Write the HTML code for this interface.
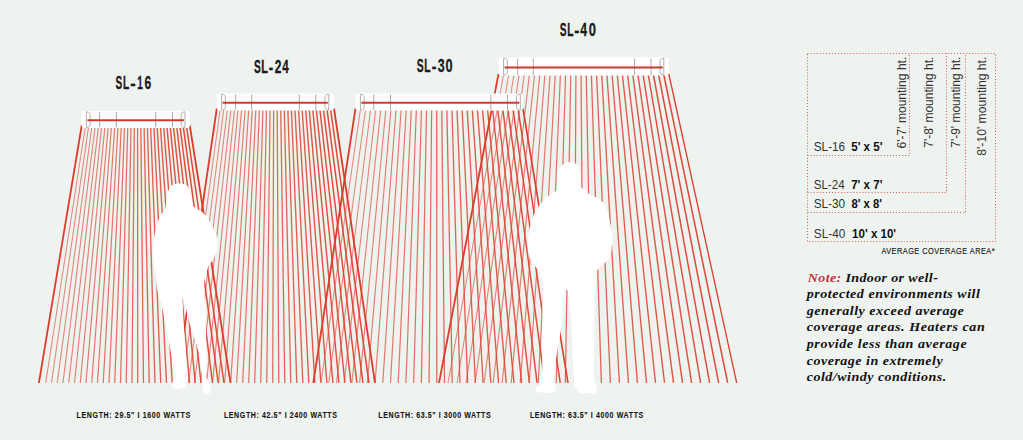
<!DOCTYPE html>
<html><head><meta charset="utf-8"><style>
html,body{margin:0;padding:0;width:1023px;height:440px;overflow:hidden;background:#eff3f0;}
svg{display:block}
.t{font-family:"Liberation Sans",sans-serif;}
.s{font-family:"Liberation Serif",serif;}
</style></head><body>
<svg width="1023" height="440" viewBox="0 0 1023 440">
<rect width="1023" height="440" fill="#eff3f0"/>
<g>
<line x1="503.66" y1="74.00" x2="448.02" y2="382.90" stroke="#de4836" stroke-width="1.05" stroke-opacity="0.62"/>
<line x1="508.82" y1="74.00" x2="457.04" y2="382.90" stroke="#de4836" stroke-width="1.06" stroke-opacity="0.63"/>
<line x1="513.98" y1="74.00" x2="466.06" y2="382.90" stroke="#de4836" stroke-width="1.08" stroke-opacity="0.64"/>
<line x1="519.14" y1="74.00" x2="475.08" y2="382.90" stroke="#de4836" stroke-width="1.09" stroke-opacity="0.66"/>
<line x1="524.30" y1="74.00" x2="484.11" y2="382.90" stroke="#de4836" stroke-width="1.11" stroke-opacity="0.67"/>
<line x1="529.46" y1="74.00" x2="493.13" y2="382.90" stroke="#de4836" stroke-width="1.12" stroke-opacity="0.68"/>
<line x1="534.62" y1="74.00" x2="502.15" y2="382.90" stroke="#de4836" stroke-width="1.14" stroke-opacity="0.69"/>
<line x1="539.78" y1="74.00" x2="511.17" y2="382.90" stroke="#de4836" stroke-width="1.15" stroke-opacity="0.71"/>
<line x1="544.95" y1="74.00" x2="520.19" y2="382.90" stroke="#de4836" stroke-width="1.17" stroke-opacity="0.72"/>
<line x1="550.11" y1="74.00" x2="529.21" y2="382.90" stroke="#de4836" stroke-width="1.18" stroke-opacity="0.73"/>
<line x1="555.27" y1="74.00" x2="538.23" y2="382.90" stroke="#de4836" stroke-width="1.20" stroke-opacity="0.74"/>
<line x1="560.43" y1="74.00" x2="547.25" y2="382.90" stroke="#de4836" stroke-width="1.21" stroke-opacity="0.75"/>
<line x1="565.59" y1="74.00" x2="556.28" y2="382.90" stroke="#de4836" stroke-width="1.22" stroke-opacity="0.77"/>
<line x1="570.75" y1="74.00" x2="565.30" y2="382.90" stroke="#de4836" stroke-width="1.24" stroke-opacity="0.78"/>
<line x1="575.91" y1="74.00" x2="574.32" y2="382.90" stroke="#de4836" stroke-width="1.25" stroke-opacity="0.79"/>
<line x1="581.07" y1="74.00" x2="583.34" y2="382.90" stroke="#de4836" stroke-width="1.27" stroke-opacity="0.80"/>
<line x1="586.23" y1="74.00" x2="592.36" y2="382.90" stroke="#de4836" stroke-width="1.28" stroke-opacity="0.82"/>
<line x1="591.39" y1="74.00" x2="601.38" y2="382.90" stroke="#de4836" stroke-width="1.30" stroke-opacity="0.83"/>
<line x1="596.55" y1="74.00" x2="610.40" y2="382.90" stroke="#de4836" stroke-width="1.31" stroke-opacity="0.84"/>
<line x1="601.71" y1="74.00" x2="619.42" y2="382.90" stroke="#de4836" stroke-width="1.33" stroke-opacity="0.85"/>
<line x1="606.87" y1="74.00" x2="628.45" y2="382.90" stroke="#de4836" stroke-width="1.34" stroke-opacity="0.87"/>
<line x1="612.03" y1="74.00" x2="637.47" y2="382.90" stroke="#de4836" stroke-width="1.35" stroke-opacity="0.88"/>
<line x1="617.19" y1="74.00" x2="646.49" y2="382.90" stroke="#de4836" stroke-width="1.37" stroke-opacity="0.89"/>
<line x1="622.35" y1="74.00" x2="655.51" y2="382.90" stroke="#de4836" stroke-width="1.38" stroke-opacity="0.90"/>
<line x1="627.52" y1="74.00" x2="664.53" y2="382.90" stroke="#de4836" stroke-width="1.40" stroke-opacity="0.91"/>
<line x1="632.68" y1="74.00" x2="673.55" y2="382.90" stroke="#de4836" stroke-width="1.41" stroke-opacity="0.93"/>
<line x1="637.84" y1="74.00" x2="682.57" y2="382.90" stroke="#de4836" stroke-width="1.43" stroke-opacity="0.94"/>
<line x1="643.00" y1="74.00" x2="691.59" y2="382.90" stroke="#de4836" stroke-width="1.44" stroke-opacity="0.95"/>
<line x1="648.16" y1="74.00" x2="700.62" y2="382.90" stroke="#de4836" stroke-width="1.46" stroke-opacity="0.96"/>
<line x1="653.32" y1="74.00" x2="709.64" y2="382.90" stroke="#de4836" stroke-width="1.47" stroke-opacity="0.98"/>
<line x1="658.48" y1="74.00" x2="718.66" y2="382.90" stroke="#de4836" stroke-width="1.49" stroke-opacity="0.99"/>
<line x1="663.64" y1="74.00" x2="727.68" y2="382.90" stroke="#de4836" stroke-width="1.50" stroke-opacity="1.00"/>
<rect x="498.5" y="57.5" width="170.50" height="18.00" rx="3" fill="#ffffff"/>
<line x1="517.6" y1="58.5" x2="517.6" y2="75.0" stroke="#a4a39e" stroke-width="0.9"/>
<line x1="533.3" y1="58.5" x2="533.3" y2="75.0" stroke="#a4a39e" stroke-width="0.9"/>
<line x1="634.5" y1="58.5" x2="634.5" y2="75.0" stroke="#a4a39e" stroke-width="0.9"/>
<line x1="651.0" y1="58.5" x2="651.0" y2="75.0" stroke="#a4a39e" stroke-width="0.9"/>
<path d="M503.6 58.3 L503.6 75.0 C506.8 75.0 507.40000000000003 73.5 507.40000000000003 71.5 L507.40000000000003 62.0 C507.40000000000003 60.0 506.8 58.3 503.6 58.3Z" fill="none" stroke="#aaa69c" stroke-width="0.9"/>
<path d="M663.8 58.3 L663.8 75.0 C660.5999999999999 75.0 660.0 73.5 660.0 71.5 L660.0 62.0 C660.0 60.0 660.5999999999999 58.3 663.8 58.3Z" fill="none" stroke="#aaa69c" stroke-width="0.9"/>
<line x1="504.6" y1="67.40" x2="662.8" y2="67.40" stroke="#cc3a2e" stroke-width="2"/>
<line x1="360.58" y1="108.50" x2="321.02" y2="382.90" stroke="#de4836" stroke-width="1.05" stroke-opacity="0.62"/>
<line x1="365.65" y1="108.50" x2="328.74" y2="382.90" stroke="#de4836" stroke-width="1.06" stroke-opacity="0.63"/>
<line x1="370.73" y1="108.50" x2="336.45" y2="382.90" stroke="#de4836" stroke-width="1.08" stroke-opacity="0.64"/>
<line x1="375.80" y1="108.50" x2="344.17" y2="382.90" stroke="#de4836" stroke-width="1.09" stroke-opacity="0.66"/>
<line x1="380.88" y1="108.50" x2="351.89" y2="382.90" stroke="#de4836" stroke-width="1.11" stroke-opacity="0.67"/>
<line x1="385.95" y1="108.50" x2="359.61" y2="382.90" stroke="#de4836" stroke-width="1.12" stroke-opacity="0.68"/>
<line x1="391.03" y1="108.50" x2="367.33" y2="382.90" stroke="#de4836" stroke-width="1.14" stroke-opacity="0.69"/>
<line x1="396.11" y1="108.50" x2="375.05" y2="382.90" stroke="#de4836" stroke-width="1.15" stroke-opacity="0.71"/>
<line x1="401.18" y1="108.50" x2="382.76" y2="382.90" stroke="#de4836" stroke-width="1.17" stroke-opacity="0.72"/>
<line x1="406.26" y1="108.50" x2="390.48" y2="382.90" stroke="#de4836" stroke-width="1.18" stroke-opacity="0.73"/>
<line x1="411.33" y1="108.50" x2="398.20" y2="382.90" stroke="#de4836" stroke-width="1.20" stroke-opacity="0.74"/>
<line x1="416.41" y1="108.50" x2="405.92" y2="382.90" stroke="#de4836" stroke-width="1.21" stroke-opacity="0.75"/>
<line x1="421.48" y1="108.50" x2="413.64" y2="382.90" stroke="#de4836" stroke-width="1.22" stroke-opacity="0.77"/>
<line x1="426.56" y1="108.50" x2="421.35" y2="382.90" stroke="#de4836" stroke-width="1.24" stroke-opacity="0.78"/>
<line x1="431.64" y1="108.50" x2="429.07" y2="382.90" stroke="#de4836" stroke-width="1.25" stroke-opacity="0.79"/>
<line x1="436.71" y1="108.50" x2="436.79" y2="382.90" stroke="#de4836" stroke-width="1.27" stroke-opacity="0.80"/>
<line x1="441.79" y1="108.50" x2="444.51" y2="382.90" stroke="#de4836" stroke-width="1.28" stroke-opacity="0.82"/>
<line x1="446.86" y1="108.50" x2="452.23" y2="382.90" stroke="#de4836" stroke-width="1.30" stroke-opacity="0.83"/>
<line x1="451.94" y1="108.50" x2="459.95" y2="382.90" stroke="#de4836" stroke-width="1.31" stroke-opacity="0.84"/>
<line x1="457.02" y1="108.50" x2="467.66" y2="382.90" stroke="#de4836" stroke-width="1.33" stroke-opacity="0.85"/>
<line x1="462.09" y1="108.50" x2="475.38" y2="382.90" stroke="#de4836" stroke-width="1.34" stroke-opacity="0.87"/>
<line x1="467.17" y1="108.50" x2="483.10" y2="382.90" stroke="#de4836" stroke-width="1.35" stroke-opacity="0.88"/>
<line x1="472.24" y1="108.50" x2="490.82" y2="382.90" stroke="#de4836" stroke-width="1.37" stroke-opacity="0.89"/>
<line x1="477.32" y1="108.50" x2="498.54" y2="382.90" stroke="#de4836" stroke-width="1.38" stroke-opacity="0.90"/>
<line x1="482.39" y1="108.50" x2="506.25" y2="382.90" stroke="#de4836" stroke-width="1.40" stroke-opacity="0.91"/>
<line x1="487.47" y1="108.50" x2="513.97" y2="382.90" stroke="#de4836" stroke-width="1.41" stroke-opacity="0.93"/>
<line x1="492.55" y1="108.50" x2="521.69" y2="382.90" stroke="#de4836" stroke-width="1.43" stroke-opacity="0.94"/>
<line x1="497.62" y1="108.50" x2="529.41" y2="382.90" stroke="#de4836" stroke-width="1.44" stroke-opacity="0.95"/>
<line x1="502.70" y1="108.50" x2="537.13" y2="382.90" stroke="#de4836" stroke-width="1.46" stroke-opacity="0.96"/>
<line x1="507.77" y1="108.50" x2="544.85" y2="382.90" stroke="#de4836" stroke-width="1.47" stroke-opacity="0.98"/>
<line x1="512.85" y1="108.50" x2="552.56" y2="382.90" stroke="#de4836" stroke-width="1.49" stroke-opacity="0.99"/>
<line x1="517.92" y1="108.50" x2="560.28" y2="382.90" stroke="#de4836" stroke-width="1.50" stroke-opacity="1.00"/>
<line x1="220.35" y1="108.50" x2="182.52" y2="382.90" stroke="#de4836" stroke-width="1.05" stroke-opacity="0.62"/>
<line x1="223.90" y1="108.50" x2="188.53" y2="382.90" stroke="#de4836" stroke-width="1.06" stroke-opacity="0.63"/>
<line x1="227.45" y1="108.50" x2="194.55" y2="382.90" stroke="#de4836" stroke-width="1.08" stroke-opacity="0.64"/>
<line x1="231.01" y1="108.50" x2="200.56" y2="382.90" stroke="#de4836" stroke-width="1.09" stroke-opacity="0.66"/>
<line x1="234.56" y1="108.50" x2="206.58" y2="382.90" stroke="#de4836" stroke-width="1.11" stroke-opacity="0.67"/>
<line x1="238.11" y1="108.50" x2="212.59" y2="382.90" stroke="#de4836" stroke-width="1.12" stroke-opacity="0.68"/>
<line x1="241.66" y1="108.50" x2="218.61" y2="382.90" stroke="#de4836" stroke-width="1.14" stroke-opacity="0.69"/>
<line x1="245.21" y1="108.50" x2="224.62" y2="382.90" stroke="#de4836" stroke-width="1.15" stroke-opacity="0.71"/>
<line x1="248.76" y1="108.50" x2="230.64" y2="382.90" stroke="#de4836" stroke-width="1.17" stroke-opacity="0.72"/>
<line x1="252.32" y1="108.50" x2="236.65" y2="382.90" stroke="#de4836" stroke-width="1.18" stroke-opacity="0.73"/>
<line x1="255.87" y1="108.50" x2="242.67" y2="382.90" stroke="#de4836" stroke-width="1.20" stroke-opacity="0.74"/>
<line x1="259.42" y1="108.50" x2="248.68" y2="382.90" stroke="#de4836" stroke-width="1.21" stroke-opacity="0.75"/>
<line x1="262.97" y1="108.50" x2="254.70" y2="382.90" stroke="#de4836" stroke-width="1.22" stroke-opacity="0.77"/>
<line x1="266.52" y1="108.50" x2="260.71" y2="382.90" stroke="#de4836" stroke-width="1.24" stroke-opacity="0.78"/>
<line x1="270.07" y1="108.50" x2="266.73" y2="382.90" stroke="#de4836" stroke-width="1.25" stroke-opacity="0.79"/>
<line x1="273.62" y1="108.50" x2="272.74" y2="382.90" stroke="#de4836" stroke-width="1.27" stroke-opacity="0.80"/>
<line x1="277.18" y1="108.50" x2="278.76" y2="382.90" stroke="#de4836" stroke-width="1.28" stroke-opacity="0.82"/>
<line x1="280.73" y1="108.50" x2="284.77" y2="382.90" stroke="#de4836" stroke-width="1.30" stroke-opacity="0.83"/>
<line x1="284.28" y1="108.50" x2="290.79" y2="382.90" stroke="#de4836" stroke-width="1.31" stroke-opacity="0.84"/>
<line x1="287.83" y1="108.50" x2="296.80" y2="382.90" stroke="#de4836" stroke-width="1.33" stroke-opacity="0.85"/>
<line x1="291.38" y1="108.50" x2="302.82" y2="382.90" stroke="#de4836" stroke-width="1.34" stroke-opacity="0.87"/>
<line x1="294.93" y1="108.50" x2="308.83" y2="382.90" stroke="#de4836" stroke-width="1.35" stroke-opacity="0.88"/>
<line x1="298.48" y1="108.50" x2="314.85" y2="382.90" stroke="#de4836" stroke-width="1.37" stroke-opacity="0.89"/>
<line x1="302.04" y1="108.50" x2="320.86" y2="382.90" stroke="#de4836" stroke-width="1.38" stroke-opacity="0.90"/>
<line x1="305.59" y1="108.50" x2="326.88" y2="382.90" stroke="#de4836" stroke-width="1.40" stroke-opacity="0.91"/>
<line x1="309.14" y1="108.50" x2="332.89" y2="382.90" stroke="#de4836" stroke-width="1.41" stroke-opacity="0.93"/>
<line x1="312.69" y1="108.50" x2="338.91" y2="382.90" stroke="#de4836" stroke-width="1.43" stroke-opacity="0.94"/>
<line x1="316.24" y1="108.50" x2="344.92" y2="382.90" stroke="#de4836" stroke-width="1.44" stroke-opacity="0.95"/>
<line x1="319.79" y1="108.50" x2="350.94" y2="382.90" stroke="#de4836" stroke-width="1.46" stroke-opacity="0.96"/>
<line x1="323.35" y1="108.50" x2="356.95" y2="382.90" stroke="#de4836" stroke-width="1.47" stroke-opacity="0.98"/>
<line x1="326.90" y1="108.50" x2="362.97" y2="382.90" stroke="#de4836" stroke-width="1.49" stroke-opacity="0.99"/>
<line x1="330.45" y1="108.50" x2="368.98" y2="382.90" stroke="#de4836" stroke-width="1.50" stroke-opacity="1.00"/>
<line x1="85.60" y1="125.00" x2="45.70" y2="382.90" stroke="#de4836" stroke-width="1.05" stroke-opacity="0.62"/>
<line x1="88.85" y1="125.00" x2="51.45" y2="382.90" stroke="#de4836" stroke-width="1.06" stroke-opacity="0.63"/>
<line x1="92.10" y1="125.00" x2="57.20" y2="382.90" stroke="#de4836" stroke-width="1.08" stroke-opacity="0.64"/>
<line x1="95.35" y1="125.00" x2="62.95" y2="382.90" stroke="#de4836" stroke-width="1.09" stroke-opacity="0.66"/>
<line x1="98.59" y1="125.00" x2="68.71" y2="382.90" stroke="#de4836" stroke-width="1.11" stroke-opacity="0.67"/>
<line x1="101.84" y1="125.00" x2="74.46" y2="382.90" stroke="#de4836" stroke-width="1.12" stroke-opacity="0.68"/>
<line x1="105.09" y1="125.00" x2="80.21" y2="382.90" stroke="#de4836" stroke-width="1.14" stroke-opacity="0.69"/>
<line x1="108.34" y1="125.00" x2="85.96" y2="382.90" stroke="#de4836" stroke-width="1.15" stroke-opacity="0.71"/>
<line x1="111.59" y1="125.00" x2="91.71" y2="382.90" stroke="#de4836" stroke-width="1.17" stroke-opacity="0.72"/>
<line x1="114.84" y1="125.00" x2="97.46" y2="382.90" stroke="#de4836" stroke-width="1.18" stroke-opacity="0.73"/>
<line x1="118.08" y1="125.00" x2="103.22" y2="382.90" stroke="#de4836" stroke-width="1.20" stroke-opacity="0.74"/>
<line x1="121.33" y1="125.00" x2="108.97" y2="382.90" stroke="#de4836" stroke-width="1.21" stroke-opacity="0.75"/>
<line x1="124.58" y1="125.00" x2="114.72" y2="382.90" stroke="#de4836" stroke-width="1.22" stroke-opacity="0.77"/>
<line x1="127.83" y1="125.00" x2="120.47" y2="382.90" stroke="#de4836" stroke-width="1.24" stroke-opacity="0.78"/>
<line x1="131.08" y1="125.00" x2="126.22" y2="382.90" stroke="#de4836" stroke-width="1.25" stroke-opacity="0.79"/>
<line x1="134.33" y1="125.00" x2="131.97" y2="382.90" stroke="#de4836" stroke-width="1.27" stroke-opacity="0.80"/>
<line x1="137.57" y1="125.00" x2="137.73" y2="382.90" stroke="#de4836" stroke-width="1.28" stroke-opacity="0.82"/>
<line x1="140.82" y1="125.00" x2="143.48" y2="382.90" stroke="#de4836" stroke-width="1.30" stroke-opacity="0.83"/>
<line x1="144.07" y1="125.00" x2="149.23" y2="382.90" stroke="#de4836" stroke-width="1.31" stroke-opacity="0.84"/>
<line x1="147.32" y1="125.00" x2="154.98" y2="382.90" stroke="#de4836" stroke-width="1.33" stroke-opacity="0.85"/>
<line x1="150.57" y1="125.00" x2="160.73" y2="382.90" stroke="#de4836" stroke-width="1.34" stroke-opacity="0.87"/>
<line x1="153.82" y1="125.00" x2="166.48" y2="382.90" stroke="#de4836" stroke-width="1.35" stroke-opacity="0.88"/>
<line x1="157.06" y1="125.00" x2="172.24" y2="382.90" stroke="#de4836" stroke-width="1.37" stroke-opacity="0.89"/>
<line x1="160.31" y1="125.00" x2="177.99" y2="382.90" stroke="#de4836" stroke-width="1.38" stroke-opacity="0.90"/>
<line x1="163.56" y1="125.00" x2="183.74" y2="382.90" stroke="#de4836" stroke-width="1.40" stroke-opacity="0.91"/>
<line x1="166.81" y1="125.00" x2="189.49" y2="382.90" stroke="#de4836" stroke-width="1.41" stroke-opacity="0.93"/>
<line x1="170.06" y1="125.00" x2="195.24" y2="382.90" stroke="#de4836" stroke-width="1.43" stroke-opacity="0.94"/>
<line x1="173.31" y1="125.00" x2="200.99" y2="382.90" stroke="#de4836" stroke-width="1.44" stroke-opacity="0.95"/>
<line x1="176.55" y1="125.00" x2="206.75" y2="382.90" stroke="#de4836" stroke-width="1.46" stroke-opacity="0.96"/>
<line x1="179.80" y1="125.00" x2="212.50" y2="382.90" stroke="#de4836" stroke-width="1.47" stroke-opacity="0.98"/>
<line x1="183.05" y1="125.00" x2="218.25" y2="382.90" stroke="#de4836" stroke-width="1.49" stroke-opacity="0.99"/>
<line x1="186.30" y1="125.00" x2="224.00" y2="382.90" stroke="#de4836" stroke-width="1.50" stroke-opacity="1.00"/>
<line x1="498.50" y1="74.00" x2="439.00" y2="382.90" stroke="#dc3c2c" stroke-width="1.8"/>
<line x1="668.80" y1="74.00" x2="736.70" y2="382.90" stroke="#dc3c2c" stroke-width="1.3"/>
<line x1="355.50" y1="108.50" x2="313.30" y2="382.90" stroke="#dc3c2c" stroke-width="1.8"/>
<line x1="523.00" y1="108.50" x2="568.00" y2="382.90" stroke="#dc3c2c" stroke-width="1.6"/>
<line x1="216.80" y1="108.50" x2="176.50" y2="382.90" stroke="#dc3c2c" stroke-width="1.8"/>
<line x1="334.00" y1="108.50" x2="375.00" y2="382.90" stroke="#dc3c2c" stroke-width="1.8"/>
<line x1="81.80" y1="125.00" x2="38.90" y2="382.90" stroke="#dc3c2c" stroke-width="1.8"/>
<line x1="189.70" y1="125.00" x2="230.50" y2="382.90" stroke="#dc3c2c" stroke-width="1.8"/>
<rect x="355.5" y="93.5" width="167.50" height="17.00" rx="3" fill="#ffffff"/>
<line x1="373.8" y1="94.5" x2="373.8" y2="110.0" stroke="#a4a39e" stroke-width="0.9"/>
<line x1="390.5" y1="94.5" x2="390.5" y2="110.0" stroke="#a4a39e" stroke-width="0.9"/>
<line x1="490.8" y1="94.5" x2="490.8" y2="110.0" stroke="#a4a39e" stroke-width="0.9"/>
<line x1="507.5" y1="94.5" x2="507.5" y2="110.0" stroke="#a4a39e" stroke-width="0.9"/>
<path d="M360.4 94.3 L360.4 110.0 C363.59999999999997 110.0 364.2 108.5 364.2 106.5 L364.2 98.0 C364.2 96.0 363.59999999999997 94.3 360.4 94.3Z" fill="none" stroke="#aaa69c" stroke-width="0.9"/>
<path d="M520.3 94.3 L520.3 110.0 C517.0999999999999 110.0 516.5 108.5 516.5 106.5 L516.5 98.0 C516.5 96.0 517.0999999999999 94.3 520.3 94.3Z" fill="none" stroke="#aaa69c" stroke-width="0.9"/>
<line x1="361.4" y1="102.85" x2="519.3" y2="102.85" stroke="#cc3a2e" stroke-width="2"/>
<rect x="216.8" y="93.5" width="117.20" height="17.00" rx="3" fill="#ffffff"/>
<line x1="235.6" y1="94.5" x2="235.6" y2="110.0" stroke="#a4a39e" stroke-width="0.9"/>
<line x1="251.7" y1="94.5" x2="251.7" y2="110.0" stroke="#a4a39e" stroke-width="0.9"/>
<line x1="299.3" y1="94.5" x2="299.3" y2="110.0" stroke="#a4a39e" stroke-width="0.9"/>
<line x1="315.8" y1="94.5" x2="315.8" y2="110.0" stroke="#a4a39e" stroke-width="0.9"/>
<path d="M221.6 94.3 L221.6 110.0 C224.79999999999998 110.0 225.4 108.5 225.4 106.5 L225.4 98.0 C225.4 96.0 224.79999999999998 94.3 221.6 94.3Z" fill="none" stroke="#aaa69c" stroke-width="0.9"/>
<path d="M328.8 94.3 L328.8 110.0 C325.6 110.0 325.0 108.5 325.0 106.5 L325.0 98.0 C325.0 96.0 325.6 94.3 328.8 94.3Z" fill="none" stroke="#aaa69c" stroke-width="0.9"/>
<line x1="222.6" y1="102.85" x2="327.8" y2="102.85" stroke="#cc3a2e" stroke-width="2"/>
<rect x="81.5" y="111.0" width="108.50" height="17.00" rx="3" fill="#ffffff"/>
<line x1="99.6" y1="112.0" x2="99.6" y2="127.5" stroke="#a4a39e" stroke-width="0.9"/>
<line x1="116.4" y1="112.0" x2="116.4" y2="127.5" stroke="#a4a39e" stroke-width="0.9"/>
<line x1="155.7" y1="112.0" x2="155.7" y2="127.5" stroke="#a4a39e" stroke-width="0.9"/>
<line x1="172.5" y1="112.0" x2="172.5" y2="127.5" stroke="#a4a39e" stroke-width="0.9"/>
<path d="M86.4 111.8 L86.4 127.5 C89.60000000000001 127.5 90.2 126.0 90.2 124.0 L90.2 115.5 C90.2 113.5 89.60000000000001 111.8 86.4 111.8Z" fill="none" stroke="#aaa69c" stroke-width="0.9"/>
<path d="M185.0 111.8 L185.0 127.5 C181.8 127.5 181.2 126.0 181.2 124.0 L181.2 115.5 C181.2 113.5 181.8 111.8 185.0 111.8Z" fill="none" stroke="#aaa69c" stroke-width="0.9"/>
<line x1="87.4" y1="120.35" x2="184.0" y2="120.35" stroke="#cc3a2e" stroke-width="2"/>
</g>
<path d="M173 184.5 L178 183.3 L184 184 L187.5 186 L189.5 189.5 L191 195 L192 201 L193 206.5 L196.5 208.5 L201.5 211.5 L206.5 216 L210.5 223 L214 230 L217 237 L218 244 L217.5 250 L215 256 L212 261 L208.5 266 L206.5 272 L204.5 280 L203.8 288.6 L204.8 300 L205.8 320 L206.3 350 L206.5 378 L209.5 383 L211 388 L209.5 393.5 L205 394 L202.8 389 L202.5 381 L199.5 355 L195 340 L190 325 L184 300 L182.5 297.5 L183.5 322.5 L185 340 L186.5 360 L187.5 375 L186.5 382 L185 387 L180 389 L173 388.5 L171 385 L175.6 377 L173.75 367.5 L170 347.5 L167.5 335 L164.4 318 L160.9 302 L156.8 288 L155.2 272 L153.5 262 L153.3 250 L154.2 237 L156.2 227 L159 219 L161.5 214 L165 210 L166 204 L167 197 L168 191 L170.5 186.5 Z" fill="#ffffff"/>
<path d="M569 162 L574.5 162.8 L578.5 166 L580.5 171 L581 178 L580.3 184 L580.3 186.5 L583 189 L588.5 193.5 L594.5 196.5 L601.7 201 L606 206 L608 213.5 L610.3 223.5 L612.2 233 L612.4 242 L611.3 251.8 L608.9 259 L604 263.8 L599.3 267.3 L597 271 L595.7 285 L594.5 300 L594.2 340 L594 380 L596 384 L597 389 L595 393 L580 393.5 L577.5 390 L574 384 L573.6 383.6 L572.3 343 L571 315 L568 291 L566 289 L565.5 292 L564 307 L560 334.5 L557.3 351 L554.5 367 L553.2 383.6 L556 387 L555 392 L547 393 L536 392 L535.5 388 L541 384 L542.3 370 L542.3 300 L542.7 283 L540.5 276.4 L537 268.4 L533.6 265 L530.2 258 L528 249 L528 237.7 L530.2 226.4 L533.6 215 L540.5 203.6 L547.5 196.5 L552 193.8 L556 191 L559 187.5 L558.3 183 L557.5 176 L558.5 170 L562 165 Z" fill="#ffffff"/>
<g class="t" font-weight="bold" fill="#1a1a1a" stroke="#1a1a1a" stroke-width="0.3">
<text transform="translate(115.55 88.8) scale(0.551 1)" font-size="18.3">S</text>
<text transform="translate(123.09 88.8) scale(0.557 1)" font-size="18.3">L</text>
<text transform="translate(130.14 89.7) scale(0.896 1)" font-size="18.3">-</text>
<text transform="translate(137.20 88.8) scale(0.546 1)" font-size="18.3">1</text>
<text transform="translate(144.42 88.8) scale(0.660 1)" font-size="18.3">6</text>
<text transform="translate(254.09 72.9) scale(0.556 1)" font-size="18.3">S</text>
<text transform="translate(261.23 72.9) scale(0.600 1)" font-size="18.3">L</text>
<text transform="translate(268.77 73.80000000000001) scale(0.721 1)" font-size="18.3">-</text>
<text transform="translate(274.84 72.9) scale(0.658 1)" font-size="18.3">2</text>
<text transform="translate(282.27 72.9) scale(0.639 1)" font-size="18.3">4</text>
<text transform="translate(416.69 71.7) scale(0.565 1)" font-size="18.3">S</text>
<text transform="translate(424.17 71.7) scale(0.568 1)" font-size="18.3">L</text>
<text transform="translate(431.74 72.60000000000001) scale(0.765 1)" font-size="18.3">-</text>
<text transform="translate(437.85 71.7) scale(0.678 1)" font-size="18.3">3</text>
<text transform="translate(445.59 71.7) scale(0.694 1)" font-size="18.3">0</text>
<text transform="translate(559.70 36.1) scale(0.556 1)" font-size="18.3">S</text>
<text transform="translate(567.17 36.1) scale(0.568 1)" font-size="18.3">L</text>
<text transform="translate(574.29 37.0) scale(0.831 1)" font-size="18.3">-</text>
<text transform="translate(580.25 36.1) scale(0.670 1)" font-size="18.3">4</text>
<text transform="translate(588.78 36.1) scale(0.706 1)" font-size="18.3">0</text>
</g>
<g class="t" font-weight="bold" fill="#141414" stroke="#141414" stroke-width="0.1" font-size="8.3">
<text transform="translate(76.6 417.9) scale(0.85 1)" textLength="133.53" lengthAdjust="spacing">LENGTH: 29.5" I 1600 WATTS</text>
<text transform="translate(223.9 417.9) scale(0.85 1)" textLength="133.06" lengthAdjust="spacing">LENGTH: 42.5" I 2400 WATTS</text>
<text transform="translate(378.3 417.9) scale(0.85 1)" textLength="132.24" lengthAdjust="spacing">LENGTH: 63.5" I 3000 WATTS</text>
<text transform="translate(529.9 417.9) scale(0.85 1)" textLength="133.41" lengthAdjust="spacing">LENGTH: 63.5" I 4000 WATTS</text>
</g>
<g fill="none" stroke="#d86a64" stroke-width="1.1" stroke-dasharray="1.1 1.95">
<path d="M807.5 53.5 H995.5 V241.5 H807.5 Z"/>
<path d="M807.5 155.5 H909.5 V53.5"/>
<path d="M807.5 192.5 H946.5 V53.5"/>
<path d="M807.5 212.5 H965.5 V53.5"/>
</g>
<g class="t" font-size="12.5">
<text x="813.7" y="151.1" fill="#333" textLength="31.5" lengthAdjust="spacingAndGlyphs">SL-16</text>
<text x="813.7" y="189.4" fill="#333" textLength="30.9" lengthAdjust="spacingAndGlyphs">SL-24</text>
<text x="813.7" y="207.8" fill="#333" textLength="31.4" lengthAdjust="spacingAndGlyphs">SL-30</text>
<text x="813.8" y="238.0" fill="#333" textLength="31.5" lengthAdjust="spacingAndGlyphs">SL-40</text>
<text x="851.2" y="151.0" fill="#111" font-weight="bold" textLength="31.3" lengthAdjust="spacingAndGlyphs">5' x 5'</text>
<text x="851.2" y="189.3" fill="#111" font-weight="bold" textLength="31.2" lengthAdjust="spacingAndGlyphs">7' x 7'</text>
<text x="851.4" y="207.8" fill="#111" font-weight="bold" textLength="30.5" lengthAdjust="spacingAndGlyphs">8' x 8'</text>
<text x="852.1" y="238.0" fill="#111" font-weight="bold" textLength="44.0" lengthAdjust="spacingAndGlyphs">10' x 10'</text>
<text transform="translate(905.5 148.5) rotate(-90)" fill="#333" textLength="91.8" lengthAdjust="spacingAndGlyphs">6'-7' mounting ht.</text>
<text transform="translate(933.3 147.7) rotate(-90)" fill="#333" textLength="91.0" lengthAdjust="spacingAndGlyphs">7'-8' mounting ht.</text>
<text transform="translate(959.6 147.7) rotate(-90)" fill="#333" textLength="91.0" lengthAdjust="spacingAndGlyphs">7'-9' mounting ht.</text>
<text transform="translate(985.8 155.7) rotate(-90)" fill="#333" textLength="99.0" lengthAdjust="spacingAndGlyphs">8'-10' mounting ht.</text>
<text transform="translate(881.4 254.0) scale(0.8 1)" font-size="9.2" fill="#151515" stroke="#151515" stroke-width="0.15" textLength="141.5" lengthAdjust="spacing">AVERAGE COVERAGE AREA*</text>
</g>
<g class="s" font-weight="bold" font-style="italic" font-size="13" fill="#111">
<text transform="translate(807.8 281.5) scale(1.08 1)" textLength="120.4" lengthAdjust="spacing"><tspan fill="#c8323c">Note:</tspan> Indoor or well-</text>
<text transform="translate(806.8 298.1) scale(1.08 1)" textLength="160.3" lengthAdjust="spacing">protected environments will</text>
<text transform="translate(806.8 314.7) scale(1.08 1)" textLength="145.4" lengthAdjust="spacing">generally exceed average</text>
<text transform="translate(806.8 331.4) scale(1.08 1)" textLength="164.8" lengthAdjust="spacing">coverage areas. Heaters can</text>
<text transform="translate(806.8 348.0) scale(1.08 1)" textLength="148.0" lengthAdjust="spacing">provide less than average</text>
<text transform="translate(806.8 364.6) scale(1.08 1)" textLength="125.8" lengthAdjust="spacing">coverage in extremely</text>
<text transform="translate(806.8 381.2) scale(1.08 1)" textLength="129.1" lengthAdjust="spacing">cold/windy conditions.</text>
</g>
</svg>
</body></html>
